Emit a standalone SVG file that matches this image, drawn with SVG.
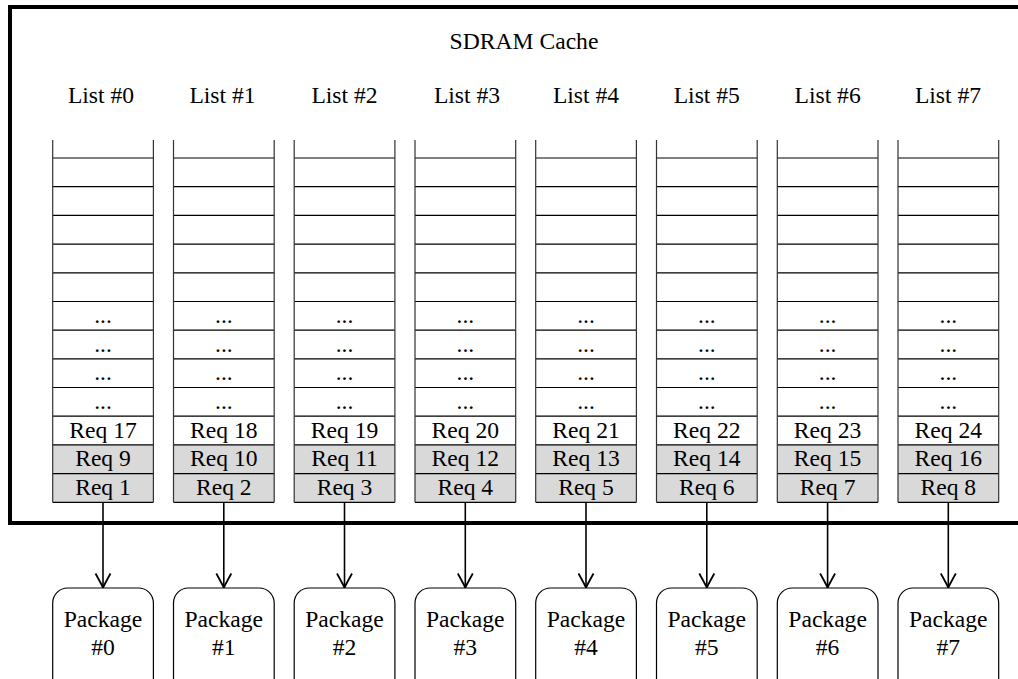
<svg xmlns="http://www.w3.org/2000/svg" xmlns:xlink="http://www.w3.org/1999/xlink" width="1018" height="679" viewBox="0 0 1018 679">
<style>
text{font-family:'Liberation Serif','DejaVu Serif',serif;font-size:23.6px;fill:#000;text-anchor:middle}
.ln{stroke:#000;stroke-width:1.2;fill:none}
.vl{stroke:#333;stroke-width:1.2;fill:none}
.grey{fill:#d9d9d9;stroke:none}
.frame{stroke:#000;stroke-width:4;fill:none}
.pkg{fill:#fff;stroke:#000;stroke-width:1.2}
.conn{stroke:#000;stroke-width:1.6;fill:none}
</style>
<defs>
<marker id="arr" viewBox="-16 -10 18 20" markerWidth="18" markerHeight="20" refX="0" refY="0" orient="auto" markerUnits="userSpaceOnUse" overflow="visible">
<path d="M-14,-7.5 Q-5,-2.5 0,0 Q-5,2.5 -14,7.5" fill="none" stroke="#000" stroke-width="1.8"/>
</marker>
<g id="colShape">
<rect class="grey" x="0" y="444.9" width="100.7" height="57.4"/>
<path class="ln" d="M0,158H100.7M0,186.7H100.7M0,215.4H100.7M0,244.1H100.7M0,272.8H100.7M0,301.5H100.7M0,330.2H100.7M0,358.8H100.7M0,387.5H100.7M0,416.2H100.7M0,444.9H100.7M0,473.6H100.7M0,502.3H100.7"/>
<path class="vl" d="M0,140V502.3M100.7,140V502.3"/>
<text x="50.35" y="323">...</text>
<text x="50.35" y="351.7">...</text>
<text x="50.35" y="380.4">...</text>
<text x="50.35" y="409.1">...</text>
</g>
</defs>
<rect width="1018" height="679" fill="#fff"/>
<g font-family="Liberation Serif, DejaVu Serif, serif">
<path class="frame" d="M1018,7H10V523H1018"/>
<text x="524" y="49">SDRAM Cache</text>
<g id="list0"><text x="101" y="103">List #0</text><use xlink:href="#colShape" transform="translate(52.7,0)"/><text x="103" y="437.5">Req 17</text><text x="103" y="466.2">Req 9</text><text x="103" y="494.9">Req 1</text></g>
<g id="list1"><text x="222.5" y="103">List #1</text><use xlink:href="#colShape" transform="translate(173.5,0)"/><text x="223.8" y="437.5">Req 18</text><text x="223.8" y="466.2">Req 10</text><text x="223.8" y="494.9">Req 2</text></g>
<g id="list2"><text x="344.5" y="103">List #2</text><use xlink:href="#colShape" transform="translate(294.2,0)"/><text x="344.5" y="437.5">Req 19</text><text x="344.5" y="466.2">Req 11</text><text x="344.5" y="494.9">Req 3</text></g>
<g id="list3"><text x="467" y="103">List #3</text><use xlink:href="#colShape" transform="translate(415,0)"/><text x="465.3" y="437.5">Req 20</text><text x="465.3" y="466.2">Req 12</text><text x="465.3" y="494.9">Req 4</text></g>
<g id="list4"><text x="586" y="103">List #4</text><use xlink:href="#colShape" transform="translate(535.7,0)"/><text x="586" y="437.5">Req 21</text><text x="586" y="466.2">Req 13</text><text x="586" y="494.9">Req 5</text></g>
<g id="list5"><text x="706.8" y="103">List #5</text><use xlink:href="#colShape" transform="translate(656.5,0)"/><text x="706.8" y="437.5">Req 22</text><text x="706.8" y="466.2">Req 14</text><text x="706.8" y="494.9">Req 6</text></g>
<g id="list6"><text x="827.6" y="103">List #6</text><use xlink:href="#colShape" transform="translate(777.3,0)"/><text x="827.6" y="437.5">Req 23</text><text x="827.6" y="466.2">Req 15</text><text x="827.6" y="494.9">Req 7</text></g>
<g id="list7"><text x="948" y="103">List #7</text><use xlink:href="#colShape" transform="translate(898,0)"/><text x="948.3" y="437.5">Req 24</text><text x="948.3" y="466.2">Req 16</text><text x="948.3" y="494.9">Req 8</text></g>
<g id="connectors">
<path class="conn" marker-end="url(#arr)" d="M103,502.3V587.5"/>
<path class="conn" marker-end="url(#arr)" d="M223.8,502.3V587.5"/>
<path class="conn" marker-end="url(#arr)" d="M344.5,502.3V587.5"/>
<path class="conn" marker-end="url(#arr)" d="M465.3,502.3V587.5"/>
<path class="conn" marker-end="url(#arr)" d="M586,502.3V587.5"/>
<path class="conn" marker-end="url(#arr)" d="M706.8,502.3V587.5"/>
<path class="conn" marker-end="url(#arr)" d="M827.6,502.3V587.5"/>
<path class="conn" marker-end="url(#arr)" d="M948.3,502.3V587.5"/>
</g>
<g id="pkg0"><rect class="pkg" x="52.7" y="588" width="100.7" height="110" rx="15"/><text x="103" y="627">Package</text><text x="103" y="655">#0</text></g>
<g id="pkg1"><rect class="pkg" x="173.5" y="588" width="100.7" height="110" rx="15"/><text x="223.8" y="627">Package</text><text x="223.8" y="655">#1</text></g>
<g id="pkg2"><rect class="pkg" x="294.2" y="588" width="100.7" height="110" rx="15"/><text x="344.5" y="627">Package</text><text x="344.5" y="655">#2</text></g>
<g id="pkg3"><rect class="pkg" x="415" y="588" width="100.7" height="110" rx="15"/><text x="465.3" y="627">Package</text><text x="465.3" y="655">#3</text></g>
<g id="pkg4"><rect class="pkg" x="535.7" y="588" width="100.7" height="110" rx="15"/><text x="586" y="627">Package</text><text x="586" y="655">#4</text></g>
<g id="pkg5"><rect class="pkg" x="656.5" y="588" width="100.7" height="110" rx="15"/><text x="706.8" y="627">Package</text><text x="706.8" y="655">#5</text></g>
<g id="pkg6"><rect class="pkg" x="777.3" y="588" width="100.7" height="110" rx="15"/><text x="827.6" y="627">Package</text><text x="827.6" y="655">#6</text></g>
<g id="pkg7"><rect class="pkg" x="898" y="588" width="100.7" height="110" rx="15"/><text x="948.3" y="627">Package</text><text x="948.3" y="655">#7</text></g>
</g>
</svg>
